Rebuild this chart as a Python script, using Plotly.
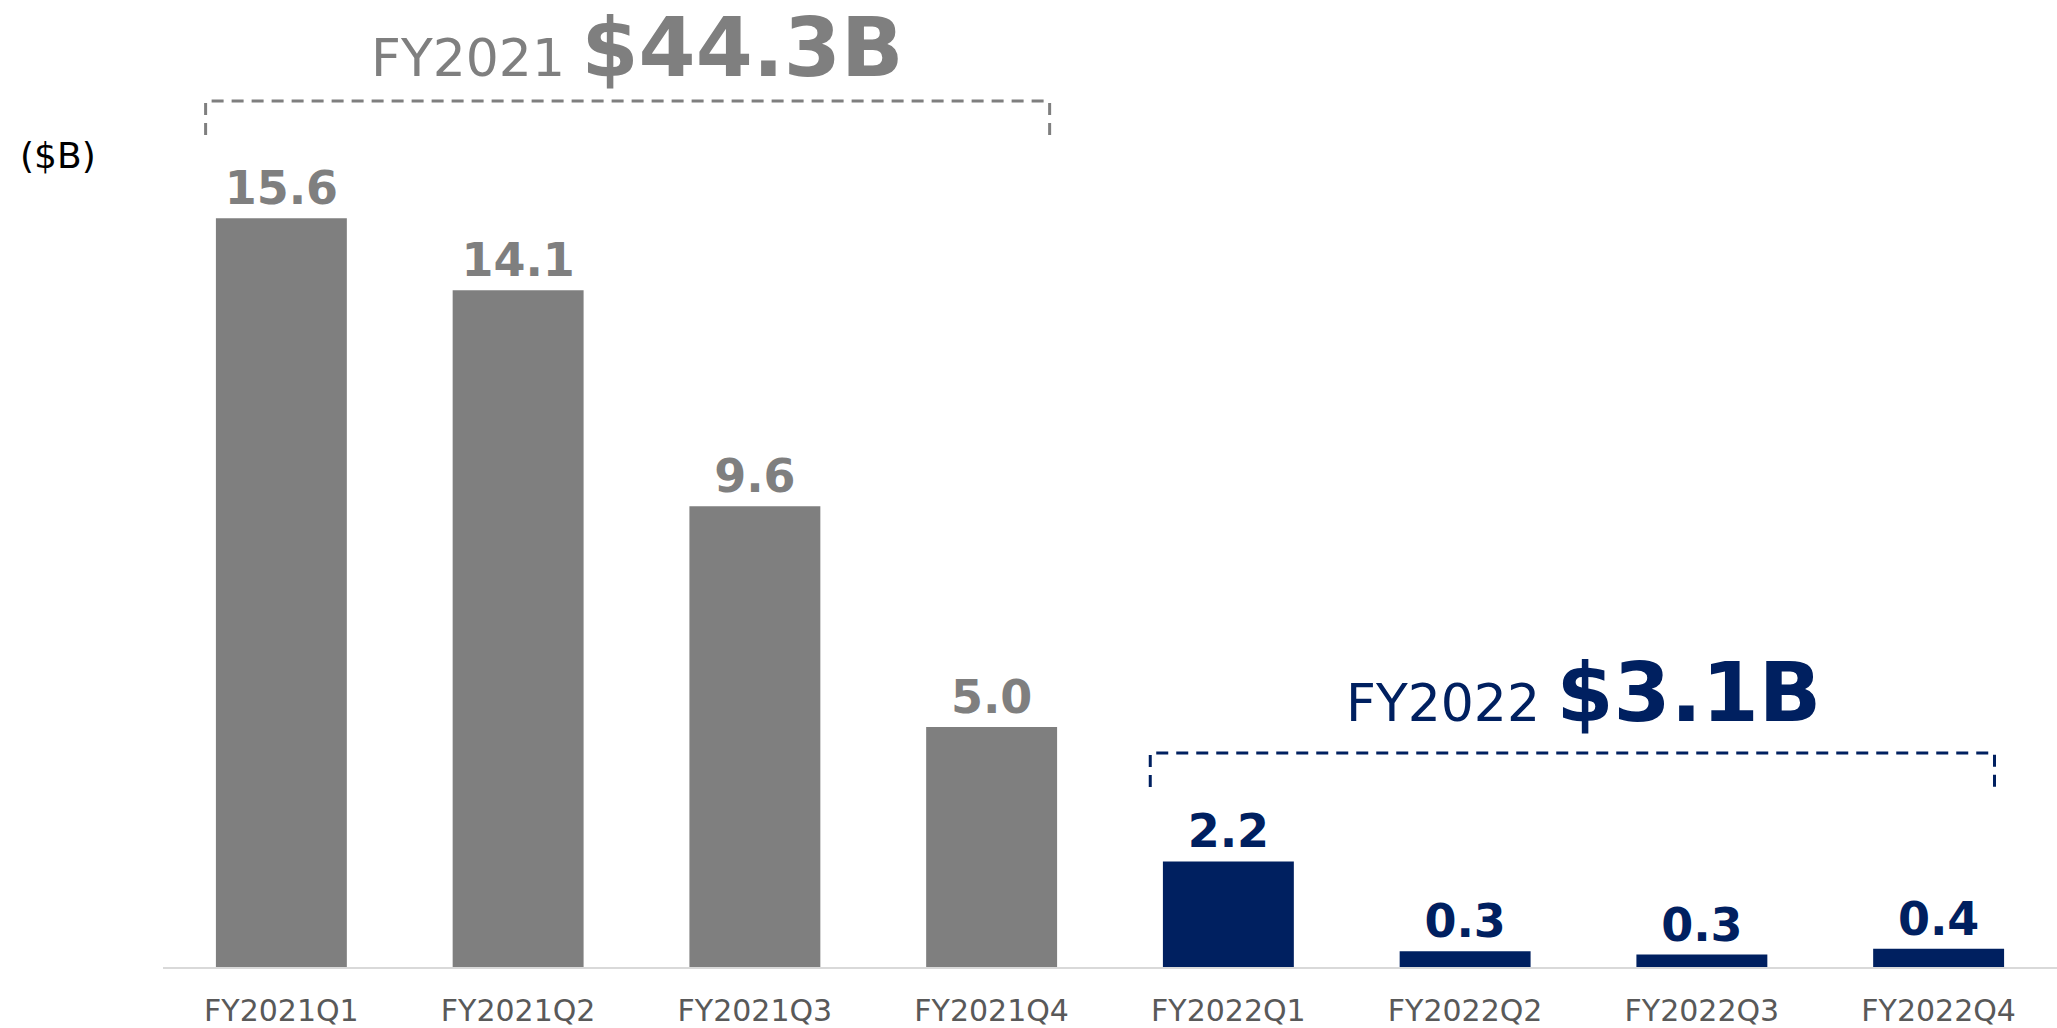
import plotly.graph_objects as go

categories = ["FY2021Q1", "FY2021Q2", "FY2021Q3", "FY2021Q4",
              "FY2022Q1", "FY2022Q2", "FY2022Q3", "FY2022Q4"]
values = [15.6, 14.1, 9.6, 5.0, 2.2, 0.33, 0.26, 0.38]
labels = ["15.6", "14.1", "9.6", "5.0", "2.2", "0.3", "0.3", "0.4"]
GRAY = "#7f7f7f"
NAVY = "#002060"
colors = [GRAY] * 4 + [NAVY] * 4

W, H = 2057, 1028
BASE_PX = 967          # pixel row of the baseline
PX_PER_UNIT = 48.0
YMAX = BASE_PX / PX_PER_UNIT
LEFT = 163

def ypx(p):
    return (BASE_PX - p) / PX_PER_UNIT

FONT = "DejaVu Sans"

fig = go.Figure()
fig.add_trace(go.Bar(
    x=categories, y=values, marker=dict(color=colors, line=dict(width=0)),
    text=labels, textposition="outside", cliponaxis=False,
    textfont=dict(family=FONT, size=46, color=colors, weight="bold"),
    constraintext="none",
))

# brackets (dashed)
def bracket(x0, x1, ytop, ybot, color):
    path = f"M {x0},{ybot} L {x0},{ytop} L {x1},{ytop} L {x1},{ybot}"
    fig.add_shape(type="path", path=path, xref="x", yref="y",
                  line=dict(color=color, width=3, dash="12px,8px"))

bracket(-0.32, 3.245, ypx(101), ypx(135), GRAY)
bracket(3.67, 7.236, ypx(753), ypx(787), NAVY)

fig.add_annotation(
    x=1.5, y=ypx(47), xref="x", yref="y", showarrow=False,
    xanchor="center", yanchor="middle",
    text="FY2021 <span style='font-size:82px'><b>$44.3B</b></span>",
    font=dict(family=FONT, size=52, color=GRAY))
fig.add_annotation(
    x=5.5, y=ypx(692), xref="x", yref="y", showarrow=False,
    xanchor="center", yanchor="middle",
    text="FY2022 <span style='font-size:82px'><b>$3.1B</b></span>",
    font=dict(family=FONT, size=52, color=NAVY))
fig.add_annotation(
    x=(18 - LEFT) / (W - LEFT), y=ypx(155), xref="paper", yref="y",
    showarrow=False, xanchor="left", yanchor="middle",
    text="($B)", font=dict(family=FONT, size=36, color="#000000"))

fig.update_layout(
    width=W, height=H,
    margin=dict(l=LEFT, r=0, t=0, b=H - BASE_PX, autoexpand=False),
    paper_bgcolor="white", plot_bgcolor="white",
    bargap=0.447, showlegend=False,
    xaxis=dict(showline=True, linecolor="#d9d9d9", linewidth=2,
               showgrid=False, zeroline=False, ticks="outside",
               ticklen=16, tickcolor="rgba(0,0,0,0)",
               tickfont=dict(family=FONT, size=30, color="#595959"),
               range=[-0.5, 7.5], automargin=False),
    yaxis=dict(visible=False, range=[0, YMAX], fixedrange=True),
)

fig.write_html(
    "out.html",
    config={"displayModeBar": False},
    post_script="document.body.style.margin='0';document.body.style.overflow='hidden';",
)
